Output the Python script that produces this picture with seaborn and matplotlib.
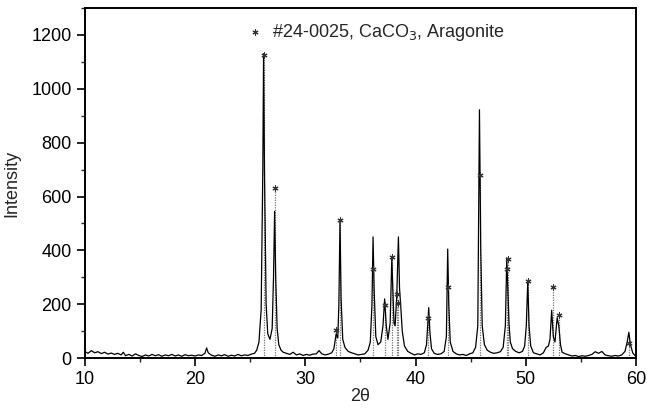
"""
XRD pattern of aragonite (CaCO3) with the PDF #24-0025 reference lines
"""

import matplotlib
matplotlib.use("Agg")
import matplotlib.pyplot as plt
from matplotlib.ticker import MultipleLocator
import seaborn as sns
import pandas as pd

scan_2theta = [
    10.0, 10.3, 10.6, 10.9, 11.2, 11.5, 11.8, 12.1, 12.4, 12.7, 13.0, 13.3, 13.5, 13.7,
    14.0, 14.3, 14.6, 14.9, 15.2, 15.5, 15.8, 16.1, 16.4, 16.7, 17.0, 17.3, 17.6, 17.9,
    18.2, 18.5, 18.8, 19.1, 19.4, 19.7, 20.0, 20.3, 20.6, 20.9, 21.05, 21.2, 21.5, 21.8,
    22.1, 22.4, 22.7, 23.0, 23.3, 23.6, 23.9, 24.2, 24.5, 24.8, 25.1, 25.4, 25.6, 25.8,
    26.0, 26.15, 26.22, 26.3, 26.45, 26.6, 26.8, 27.0, 27.12, 27.22, 27.32, 27.45, 27.6,
    27.8, 28.0, 28.3, 28.6, 28.9, 29.2, 29.5, 29.8, 30.1, 30.4, 30.7, 31.0, 31.25, 31.5,
    31.8, 32.1, 32.4, 32.6, 32.8, 32.95, 33.05, 33.15, 33.25, 33.4, 33.6, 33.9, 34.2,
    34.5, 34.8, 35.1, 35.4, 35.7, 35.9, 36.05, 36.15, 36.25, 36.4, 36.6, 36.85, 37.05,
    37.2, 37.35, 37.5, 37.7, 37.85, 37.95, 38.05, 38.15, 38.3, 38.45, 38.55, 38.65, 38.8,
    39.0, 39.3, 39.6, 39.9, 40.2, 40.5, 40.8, 41.0, 41.1, 41.2, 41.3, 41.45, 41.7, 42.0,
    42.3, 42.6, 42.8, 42.92, 43.02, 43.15, 43.4, 43.7, 44.0, 44.3, 44.6, 44.9, 45.2,
    45.45, 45.65, 45.8, 45.92, 46.05, 46.25, 46.5, 46.8, 47.1, 47.4, 47.7, 47.95, 48.15,
    48.28, 48.38, 48.48, 48.6, 48.8, 49.1, 49.4, 49.7, 49.9, 50.05, 50.18, 50.3, 50.45,
    50.7, 51.0, 51.3, 51.6, 51.85, 52.05, 52.2, 52.35, 52.5, 52.65, 52.85, 53.0, 53.15,
    53.3, 53.6, 53.9, 54.2, 54.5, 54.8, 55.1, 55.4, 55.7, 56.0, 56.3, 56.6, 56.9, 57.2,
    57.5, 57.8, 58.1, 58.4, 58.7, 59.0, 59.2, 59.35, 59.5, 59.7, 59.9, 60.0,
]
scan_counts = [
    25, 18, 28, 20, 24, 17, 22, 15, 19, 14, 18, 12, 22, 9,
    14, 8, 16, 10, 6, 12, 8, 14, 9, 13, 7, 12, 9, 14,
    8, 12, 7, 13, 9, 11, 8, 12, 10, 18, 38, 20, 11, 7,
    12, 9, 13, 7, 11, 8, 14, 9, 12, 10, 15, 18, 30, 60,
    180, 700, 1130, 700, 200, 90, 70, 110, 300, 545, 300, 110, 50,
    30, 22, 18, 14, 22, 12, 16, 10, 14, 11, 15, 16, 28, 16,
    12, 15, 20, 35, 90, 75, 200, 510, 220, 70, 40, 25, 20,
    16, 12, 14, 16, 30, 60, 200, 450, 250, 80, 50, 60, 120,
    220, 120, 70, 130, 370, 250, 130, 120, 230, 450, 260, 200, 100,
    45, 25, 18, 12, 16, 14, 20, 50, 120, 188, 100, 35, 18, 14,
    16, 25, 80, 405, 200, 60, 25, 16, 12, 14, 10, 16, 20,
    40, 120, 922, 400, 120, 50, 30, 22, 18, 20, 24, 40, 120,
    372, 250, 130, 60, 35, 25, 20, 25, 45, 120, 285, 120, 45,
    20, 16, 12, 20, 40, 45, 70, 178, 80, 60, 150, 120, 50,
    22, 16, 12, 8, 10, 6, 9, 7, 10, 14, 24, 18, 25, 12,
    9, 7, 10, 8, 12, 25, 60, 96, 50, 20, 10, 8,
]

# PDF card #24-0025 (aragonite) reference lines
ref_2theta = [26.22, 27.22, 32.8, 33.15, 36.1, 37.25, 37.88, 38.35, 38.45,
              41.15, 42.92, 45.85, 48.3, 48.42, 50.2, 52.45, 53.05, 59.35]
ref_intensity = [1126, 633, 104, 511, 330, 196, 374, 240, 204,
                 148, 263, 678, 330, 367, 285, 263, 159, 56]
ref_label = "#24-0025, CaCO$_3$, Aragonite"

scan = pd.DataFrame({"two_theta": scan_2theta, "counts": scan_counts})
ref = pd.DataFrame({"two_theta": ref_2theta, "intensity": ref_intensity})

sns.set_theme(style="ticks")
plt.rcParams["font.family"] = ["Liberation Sans", "DejaVu Sans"]

fig, ax = plt.subplots(figsize=(6.47, 4.16), dpi=100)
fig.subplots_adjust(left=0.131, right=0.983, bottom=0.139, top=0.981)

# reference sticks (dotted) drawn under the scan
ax.vlines(ref["two_theta"], 0, ref["intensity"], colors="0.45",
          linestyles=(0, (1, 1)), linewidth=0.9, zorder=1)

sns.lineplot(data=scan, x="two_theta", y="counts", color="black",
             linewidth=0.9, estimator=None, sort=False, ax=ax, zorder=2)

sns.scatterplot(data=ref, x="two_theta", y="intensity", marker=(6, 2, 0),
                s=14, color="0.2", linewidth=0.8, label=ref_label, ax=ax, zorder=3)

ax.set_xlim(10, 60)
ax.set_ylim(0, 1300)
ax.xaxis.set_major_locator(MultipleLocator(10))
ax.xaxis.set_minor_locator(MultipleLocator(5))
ax.yaxis.set_major_locator(MultipleLocator(200))
ax.yaxis.set_minor_locator(MultipleLocator(100))
ax.tick_params(which="major", direction="out", length=6, width=1.2,
               labelsize=13, colors="black")
ax.tick_params(which="minor", direction="out", length=3, width=1.0)

for side in ax.spines.values():
    side.set_linewidth(1.4)
    side.set_color("black")

ax.set_xlabel("2\u03b8", fontsize=13, labelpad=0)
ax.set_ylabel("Intensity", fontsize=13, labelpad=8)

ax.legend(loc="center left", bbox_to_anchor=(0.27, 0.93), frameon=False,
          fontsize=13, handletextpad=0.4, handlelength=1.0, borderpad=0.2)

plt.savefig("out.png", dpi=100)
